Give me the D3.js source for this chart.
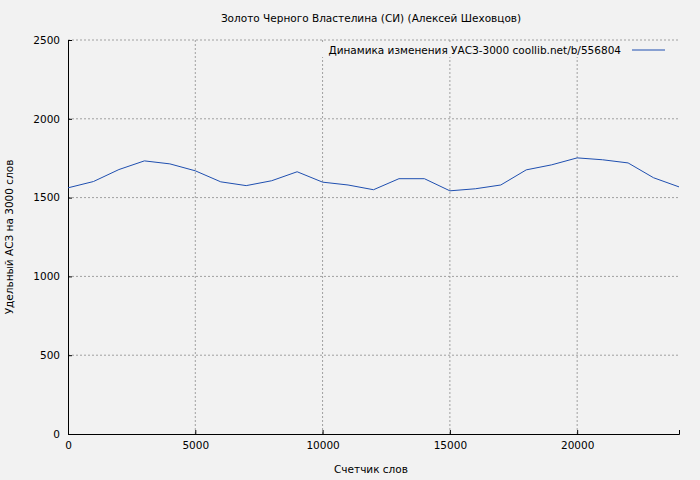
<!DOCTYPE html>
<html><head><meta charset="utf-8">
<script src="https://cdn.jsdelivr.net/npm/d3@7"></script>
<style>body{margin:0;background:#f2f2f2}text{font-family:"DejaVu Sans",sans-serif;font-size:10.5px;fill:#000}</style>
</head><body><svg width="700" height="480"></svg>
<script>
var words = [0,1000,2000,3000,4000,5000,6000,7000,8000,9000,10000,11000,12000,13000,14000,15000,16000,17000,18000,19000,20000,21000,22000,23000,24000];
var values = [1562,1602,1678,1733,1714,1670,1600,1576,1607,1664,1598,1580,1550,1620,1620,1543,1556,1580,1676,1708,1752,1740,1720,1626,1568];
var xTicks = [0,5000,10000,15000,20000];
var yTicks = [0,500,1000,1500,2000,2500];

var svg = d3.select("svg");
var m = {l:68, r:679, t:40, b:434};
var x = d3.scaleLinear().domain([0,24000]).range([m.l,m.r]);
var y = d3.scaleLinear().domain([0,2500]).range([m.b,m.t]);

svg.append("rect").attr("width",700).attr("height",480).attr("fill","#f2f2f2");

// grid
svg.append("g").selectAll("line").data(xTicks.slice(1)).enter().append("line")
	.attr("x1",x).attr("x2",x).attr("y1",m.t).attr("y2",m.b)
	.attr("stroke","#a0a0a0").attr("stroke-dasharray","2,2");
svg.append("g").selectAll("line").data(yTicks.slice(1)).enter().append("line")
	.attr("x1",m.l).attr("x2",m.r).attr("y1",y).attr("y2",y)
	.attr("stroke","#a0a0a0").attr("stroke-dasharray","2,2");

var xa = svg.append("g").attr("transform","translate(0,"+m.b+")")
	.call(d3.axisBottom(x).tickValues(xTicks).tickFormat(d3.format("d")).tickSize(-4).tickPadding(8));
var ya = svg.append("g").attr("transform","translate("+m.l+",0)")
	.call(d3.axisLeft(y).tickValues(yTicks).tickFormat(d3.format("d")).tickSize(-4).tickPadding(8));
[xa,ya].forEach(function(a){
	a.select(".domain").attr("stroke","#000");
	a.selectAll("text").style("font-family","DejaVu Sans").style("font-size","10.5px");
	a.selectAll("line").attr("stroke","#000");
});

svg.append("path").datum(values)
	.attr("fill","none").attr("stroke","#1f4fb0").attr("stroke-width",1)
	.attr("d", d3.line().x(function(d,i){return x(words[i]);}).y(function(d){return y(d);}));

svg.append("text").attr("x",371).attr("y",22).attr("text-anchor","middle")
	.text("Золото Черного Властелина (СИ) (Алексей Шеховцов)");
svg.append("text").attr("x",371).attr("y",473).attr("text-anchor","middle").text("Счетчик слов");
svg.append("text").attr("transform","translate(13,237) rotate(-90)").attr("text-anchor","middle")
	.text("Удельный АСЗ на 3000 слов");

// legend
svg.append("rect").attr("x",320).attr("y",43).attr("width",350).attr("height",14).attr("fill","#f2f2f2");
svg.append("text").attr("x",621).attr("y",54).attr("text-anchor","end")
	.text("Динамика изменения УАСЗ-3000  coollib.net/b/556804");
svg.append("line").attr("x1",632).attr("x2",665).attr("y1",50).attr("y2",50)
	.attr("stroke","#1f4fb0");
</script></body></html>
